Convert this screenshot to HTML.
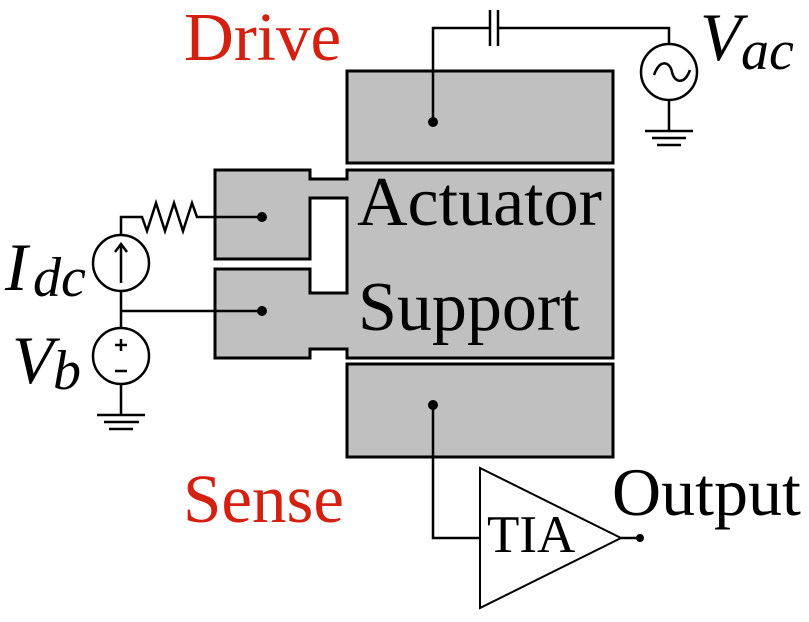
<!DOCTYPE html>
<html><head><meta charset="utf-8"><style>
html,body{margin:0;padding:0;background:#fff}
body{position:relative;width:809px;height:622px;overflow:hidden}
svg{display:block;position:absolute;left:0;top:0}
.t{position:absolute;font-family:"Liberation Serif","DejaVu Serif",serif;line-height:1;white-space:nowrap;color:#000}
.r{color:#d42010}
.i{font-style:italic}
</style></head>
<body>
<svg width="809" height="622" viewBox="0 0 809 622" xmlns="http://www.w3.org/2000/svg">
<g stroke="#000" stroke-width="3" fill="#c0c0c0">
<rect x="347" y="71" width="266" height="92"/>
<rect x="347" y="364" width="266" height="93"/>
<path d="M215,170 H310 V179 H347 V170 H613 V358 H347 V349 H310 V358 H215 V269 H310 V293 H347 V198 H310 V259 H215 Z"/>
</g>
<g stroke="#000" stroke-width="2.5" fill="none">
<path d="M433,122 V28 H490 M498,28 H669 V44"/>
<path d="M490,10 V46 M498,10 V46"/>
<circle cx="669" cy="72" r="28" fill="#fff"/>
<path d="M654,75 C660,58 670,62 672,72 C674,82 684,86 690,70"/>
<path d="M669,100 V131 M645,131 H693 M652,138 H686 M657,145 H681"/>
<path d="M433,405 V538 H480"/>
<path d="M480,468 L480,608 L621,538 Z" fill="#fff" stroke-width="2"/>
<path d="M621,538 H640"/>
<path d="M262,217 H197 L192,203 L183,231 L174,203 L165,231 L156,203 L147,231 L142,217 H121 V235"/>
<circle cx="121" cy="263" r="28"/>
<path d="M121,283 V244 M115,252 L121,244 L127,252"/>
<path d="M121,291 V328 M121,311 H262"/>
<circle cx="121" cy="356" r="28"/>
<path d="M115,345 H127 M121,339 V351 M115,371 H127"/>
<path d="M121,384 V415 M97,415 H145 M104,422 H139 M109,429 H133"/>
</g>
<g fill="#000">
<circle cx="433" cy="122" r="5"/><circle cx="433" cy="405" r="5"/>
<circle cx="262" cy="217" r="5"/><circle cx="262" cy="311" r="5"/>
<circle cx="640" cy="538" r="4"/>
</g>
</svg>
<div class="t r" style="left:184px;top:3px;font-size:69px">Drive</div>
<div class="t r" style="left:183px;top:465px;font-size:69px">Sense</div>
<div class="t" style="left:357px;top:168px;font-size:70px">Actuator</div>
<div class="t" style="left:358px;top:273px;font-size:70px">Support</div>
<div class="t" style="left:612px;top:458px;font-size:68px">Output</div>
<div class="t" style="left:487px;top:509px;font-size:53px">TIA</div>
<div class="t i" style="left:5px;top:233px;font-size:68px">I</div>
<div class="t i" style="left:33px;top:250px;font-size:56px">dc</div>
<div class="t i" style="left:12px;top:326px;font-size:68px">V</div>
<div class="t i" style="left:53px;top:343px;font-size:56px">b</div>
<div class="t i" style="left:700px;top:3px;font-size:68px">V</div>
<div class="t i" style="left:741px;top:23px;font-size:56px">ac</div>
</body></html>
